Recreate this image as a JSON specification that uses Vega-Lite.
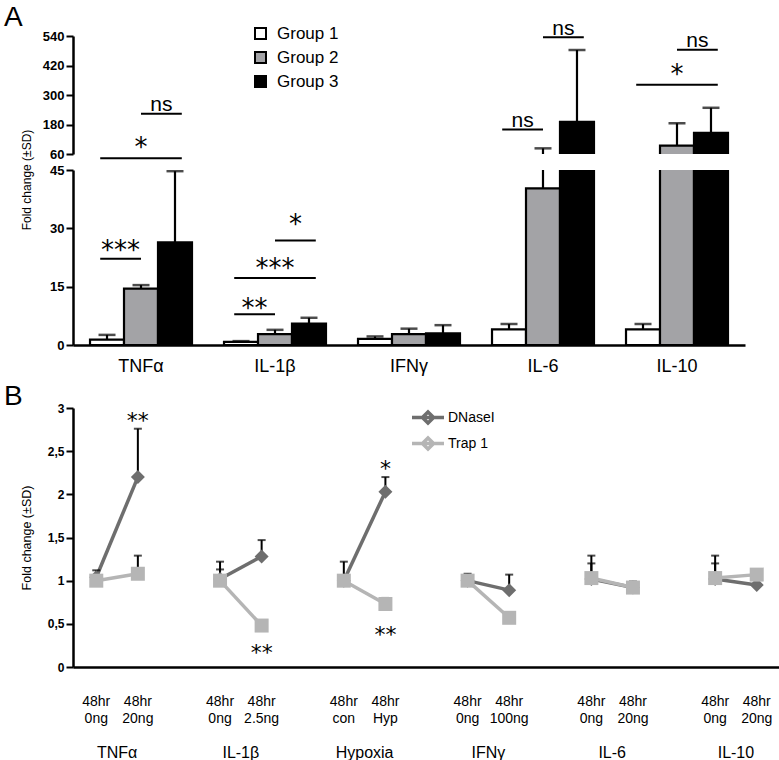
{
  "$schema": "https://vega.github.io/schema/vega-lite/v6.json",
  "padding": {"left": 4, "top": 3, "right": 0, "bottom": 0},
  "background": "white",
  "spacing": 8,
  "config": {
    "view": {"stroke": null},
    "font": "Liberation Sans",
    "axis": {"grid": false, "domainColor": "#000000", "domainWidth": 2.5, "tickColor": "#000000", "tickWidth": 2, "labelColor": "#000000", "titleColor": "#000000", "labelFont": "Liberation Sans", "titleFont": "Liberation Sans"},
    "legend": {"labelFont": "Liberation Sans", "labelColor": "#000000", "padding": 0}
  },
  "datasets": {
    "abars": [
      {"cyt": "TNFα", "grp": "Group 1", "v": 1.4, "e": 2.6},
      {"cyt": "TNFα", "grp": "Group 2", "v": 14.5, "e": 15.4},
      {"cyt": "TNFα", "grp": "Group 3", "v": 26.4, "e": 44.7},
      {"cyt": "IL-1β", "grp": "Group 1", "v": 0.8, "e": 1.0},
      {"cyt": "IL-1β", "grp": "Group 2", "v": 2.8, "e": 3.9},
      {"cyt": "IL-1β", "grp": "Group 3", "v": 5.5, "e": 7.0},
      {"cyt": "IFNγ", "grp": "Group 1", "v": 1.6, "e": 2.2},
      {"cyt": "IFNγ", "grp": "Group 2", "v": 2.8, "e": 4.2},
      {"cyt": "IFNγ", "grp": "Group 3", "v": 3.0, "e": 5.1},
      {"cyt": "IL-6", "grp": "Group 1", "v": 4.0, "e": 5.4},
      {"cyt": "IL-6", "grp": "Group 2", "v": 40.3, "e": 83},
      {"cyt": "IL-6", "grp": "Group 3", "v": 191, "e": 483},
      {"cyt": "IL-10", "grp": "Group 1", "v": 4.0, "e": 5.4},
      {"cyt": "IL-10", "grp": "Group 2", "v": 94, "e": 185},
      {"cyt": "IL-10", "grp": "Group 3", "v": 146, "e": 248}
    ],
    "alines": [
      {"id": "L1", "cyt": "TNFα", "pos": "Group 1", "v": 22.2, "panel": "lower"},
      {"id": "L1", "cyt": "TNFα", "pos": "Group 2", "v": 22.2, "panel": "lower"},
      {"id": "L2", "cyt": "TNFα", "pos": "Group 1", "v": 48.0, "panel": "lower"},
      {"id": "L2", "cyt": "TNFα", "pos": "Group 3", "v": 48.0, "panel": "lower"},
      {"id": "L3", "cyt": "TNFα", "pos": "Group 2", "v": 223.5, "panel": "upper"},
      {"id": "L3", "cyt": "TNFα", "pos": "Group 3", "v": 223.5, "panel": "upper"},
      {"id": "L4", "cyt": "IL-1β", "pos": "Group 1", "v": 7.9, "panel": "lower"},
      {"id": "L4", "cyt": "IL-1β", "pos": "Group 2", "v": 7.9, "panel": "lower"},
      {"id": "L5", "cyt": "IL-1β", "pos": "Group 1", "v": 17.2, "panel": "lower"},
      {"id": "L5", "cyt": "IL-1β", "pos": "Group 3", "v": 17.2, "panel": "lower"},
      {"id": "L6", "cyt": "IL-1β", "pos": "Group 2", "v": 26.9, "panel": "lower"},
      {"id": "L6", "cyt": "IL-1β", "pos": "Group 3", "v": 26.9, "panel": "lower"},
      {"id": "L7", "cyt": "IL-6", "pos": "Group 1", "v": 159.7, "panel": "upper"},
      {"id": "L7", "cyt": "IL-6", "pos": "Group 2", "v": 159.7, "panel": "upper"},
      {"id": "L8", "cyt": "IL-6", "pos": "Group 2", "v": 535, "panel": "upper"},
      {"id": "L8", "cyt": "IL-6", "pos": "Group 3", "v": 535, "panel": "upper"},
      {"id": "L9", "cyt": "IL-10", "pos": "Group 1", "v": 341.5, "panel": "upper"},
      {"id": "L9", "cyt": "IL-10", "pos": "Group 3", "v": 341.5, "panel": "upper"},
      {"id": "L10", "cyt": "IL-10", "pos": "Group 2", "v": 484, "panel": "upper"},
      {"id": "L10", "cyt": "IL-10", "pos": "Group 3", "v": 484, "panel": "upper"}
    ],
    "atexts": [
      {"cyt": "TNFα", "pos": "Group 1-2", "v": 22.0, "label": "***", "panel": "lower"},
      {"cyt": "TNFα", "pos": "Group 2", "v": 48.5, "label": "*", "panel": "lower"},
      {"cyt": "IL-1β", "pos": "Group 1-2", "v": 7.3, "label": "**", "panel": "lower"},
      {"cyt": "IL-1β", "pos": "Group 2", "v": 17.6, "label": "***", "panel": "lower"},
      {"cyt": "IL-1β", "pos": "Group 2-3", "v": 28.7, "label": "*", "panel": "lower"},
      {"cyt": "TNFα", "pos": "Group 2-3", "v": 234, "label": "ns", "panel": "upper"},
      {"cyt": "IL-6", "pos": "Group 1-2", "v": 169, "label": "ns", "panel": "upper"},
      {"cyt": "IL-6", "pos": "Group 2-3", "v": 546, "label": "ns", "panel": "upper"},
      {"cyt": "IL-10", "pos": "Group 2", "v": 349.6, "label": "*", "panel": "upper"},
      {"cyt": "IL-10", "pos": "Group 2-3", "v": 497, "label": "ns", "panel": "upper"}
    ],
    "bpts": [
      {"cond": "TNFα", "slot": "a", "series": "DNaseI", "v": 1.04, "e": 1.12},
      {"cond": "TNFα", "slot": "a", "series": "Trap 1", "v": 1.0, "e": null},
      {"cond": "TNFα", "slot": "b", "series": "DNaseI", "v": 2.2, "e": 2.76},
      {"cond": "TNFα", "slot": "b", "series": "Trap 1", "v": 1.08, "e": 1.29},
      {"cond": "IL-1β", "slot": "a", "series": "DNaseI", "v": 1.02, "e": 1.22},
      {"cond": "IL-1β", "slot": "a", "series": "Trap 1", "v": 1.0, "e": 1.13},
      {"cond": "IL-1β", "slot": "b", "series": "DNaseI", "v": 1.28, "e": 1.47},
      {"cond": "IL-1β", "slot": "b", "series": "Trap 1", "v": 0.48, "e": null},
      {"cond": "Hypoxia", "slot": "a", "series": "DNaseI", "v": 1.0, "e": 1.22},
      {"cond": "Hypoxia", "slot": "a", "series": "Trap 1", "v": 1.0, "e": null},
      {"cond": "Hypoxia", "slot": "b", "series": "DNaseI", "v": 2.03, "e": 2.2},
      {"cond": "Hypoxia", "slot": "b", "series": "Trap 1", "v": 0.73, "e": 0.8},
      {"cond": "IFNγ", "slot": "a", "series": "DNaseI", "v": 1.0, "e": 1.08},
      {"cond": "IFNγ", "slot": "a", "series": "Trap 1", "v": 1.0, "e": null},
      {"cond": "IFNγ", "slot": "b", "series": "DNaseI", "v": 0.89, "e": 1.07},
      {"cond": "IFNγ", "slot": "b", "series": "Trap 1", "v": 0.57, "e": null},
      {"cond": "IL-6", "slot": "a", "series": "DNaseI", "v": 1.02, "e": 1.29},
      {"cond": "IL-6", "slot": "a", "series": "Trap 1", "v": 1.03, "e": 1.2},
      {"cond": "IL-6", "slot": "b", "series": "DNaseI", "v": 0.92, "e": 0.99},
      {"cond": "IL-6", "slot": "b", "series": "Trap 1", "v": 0.92, "e": null},
      {"cond": "IL-10", "slot": "a", "series": "DNaseI", "v": 1.02, "e": 1.29},
      {"cond": "IL-10", "slot": "a", "series": "Trap 1", "v": 1.03, "e": 1.2},
      {"cond": "IL-10", "slot": "b", "series": "DNaseI", "v": 0.95, "e": null},
      {"cond": "IL-10", "slot": "b", "series": "Trap 1", "v": 1.07, "e": null}
    ],
    "bstars": [
      {"cond": "TNFα", "slot": "b", "v": 2.77, "label": "**"},
      {"cond": "Hypoxia", "slot": "b", "v": 2.21, "label": "*"},
      {"cond": "IL-1β", "slot": "b", "v": 0.08, "label": "**"},
      {"cond": "Hypoxia", "slot": "b", "v": 0.29, "label": "**"}
    ],
    "bsub": [
      {"cond": "TNFα", "slot": "a", "label": "48hr\n0ng"},
      {"cond": "TNFα", "slot": "b", "label": "48hr\n20ng"},
      {"cond": "IL-1β", "slot": "a", "label": "48hr\n0ng"},
      {"cond": "IL-1β", "slot": "b", "label": "48hr\n2.5ng"},
      {"cond": "Hypoxia", "slot": "a", "label": "48hr\ncon"},
      {"cond": "Hypoxia", "slot": "b", "label": "48hr\nHyp"},
      {"cond": "IFNγ", "slot": "a", "label": "48hr\n0ng"},
      {"cond": "IFNγ", "slot": "b", "label": "48hr\n100ng"},
      {"cond": "IL-6", "slot": "a", "label": "48hr\n0ng"},
      {"cond": "IL-6", "slot": "b", "label": "48hr\n20ng"},
      {"cond": "IL-10", "slot": "a", "label": "48hr\n0ng"},
      {"cond": "IL-10", "slot": "b", "label": "48hr\n20ng"}
    ]
  },
  "resolve": {
    "scale": {"color": "independent"},
    "legend": {"color": "independent"}
  },
  "vconcat": [
    {
      "bounds": "flush",
      "spacing": 16,
      "resolve": {"scale": {"color": "independent"}, "legend": {"color": "independent"}},
      "vconcat": [
        {
          "width": 672,
          "height": 118,
          "title": {"text": "A", "anchor": "start", "frame": "group", "fontSize": 28, "fontWeight": "normal", "font": "Liberation Sans", "color": "#000000", "dx": -69, "offset": -36, "baseline": "alphabetic"},
          "resolve": {"scale": {"xOffset": "independent"}},
          "encoding": {
            "x": {"field": "cyt", "type": "nominal", "scale": {"domain": ["TNFα", "IL-1β", "IFNγ", "IL-6", "IL-10"], "paddingInner": 0.239, "paddingOuter": 0.127}, "axis": null},
            "y": {"field": "v", "type": "quantitative", "scale": {"domain": [60, 540], "nice": false, "zero": false}, "axis": {"values": [60, 180, 300, 420, 540], "title": null, "labelFontSize": 13, "labelFontWeight": "bold", "tickSize": 7, "labelPadding": 2}}
          },
          "layer": [
            {
              "data": {"name": "abars"},
              "mark": {"type": "bar", "clip": true, "stroke": "#000000", "strokeWidth": 2.2},
              "encoding": {
                "xOffset": {"field": "grp", "type": "nominal", "scale": {"domain": ["Group 1", "Group 2", "Group 3"], "paddingInner": 0, "paddingOuter": 0}},
                "y2": {"datum": 0},
                "color": {"field": "grp", "type": "nominal", "scale": {"domain": ["Group 1", "Group 2", "Group 3"], "range": ["#ffffff", "#a3a3a6", "#000000"]}, "legend": {"orient": "none", "legendX": 179, "legendY": -11, "title": null, "labelFontSize": 17, "symbolType": "square", "symbolSize": 121, "symbolStrokeColor": "#000000", "symbolStrokeWidth": 2, "rowPadding": 5, "labelOffset": 8}}
              }
            },
            {
              "data": {"name": "abars"},
              "mark": {"type": "rule", "clip": true, "color": "#000000", "strokeWidth": 2.2},
              "encoding": {
                "xOffset": {"field": "grp", "type": "nominal", "scale": {"domain": ["Group 1", "Group 2", "Group 3"], "paddingInner": 0, "paddingOuter": 0}},
                "y2": {"field": "e"}
              }
            },
            {
              "data": {"name": "abars"},
              "mark": {"type": "tick", "clip": true, "color": "#000000", "thickness": 2.5, "size": 17, "orient": "horizontal"},
              "encoding": {
                "xOffset": {"field": "grp", "type": "nominal", "scale": {"domain": ["Group 1", "Group 2", "Group 3"], "paddingInner": 0, "paddingOuter": 0}},
                "y": {"field": "e", "type": "quantitative", "scale": {"domain": [60, 540], "nice": false, "zero": false}}
              }
            },
            {
              "data": {"name": "alines"},
              "transform": [{"filter": "datum.panel == 'upper'"}],
              "mark": {"type": "line", "color": "#000000", "strokeWidth": 2},
              "encoding": {
                "xOffset": {"field": "pos", "type": "nominal", "scale": {"domain": ["Group 1", "Group 1-2", "Group 2", "Group 2-3", "Group 3"], "paddingInner": 0, "paddingOuter": 0.5}},
                "detail": {"field": "id"}
              }
            },
            {
              "data": {"name": "atexts"},
              "transform": [{"filter": "datum.panel == 'upper' && datum.label == 'ns'"}],
              "mark": {"type": "text", "font": "Liberation Sans", "fontSize": 21, "baseline": "alphabetic", "color": "#000000"},
              "encoding": {
                "xOffset": {"field": "pos", "type": "nominal", "scale": {"domain": ["Group 1", "Group 1-2", "Group 2", "Group 2-3", "Group 3"], "paddingInner": 0, "paddingOuter": 0.5}},
                "text": {"field": "label"}
              }
            },
            {
              "data": {"name": "atexts"},
              "transform": [{"filter": "datum.panel == 'upper' && datum.label != 'ns'"}],
              "mark": {"type": "text", "font": "DejaVu Sans", "fontSize": 26, "baseline": "alphabetic", "color": "#000000"},
              "encoding": {
                "xOffset": {"field": "pos", "type": "nominal", "scale": {"domain": ["Group 1", "Group 1-2", "Group 2", "Group 2-3", "Group 3"], "paddingInner": 0, "paddingOuter": 0.5}},
                "text": {"field": "label"}
              }
            }
          ]
        },
        {
          "width": 672,
          "height": 175,
          "resolve": {"scale": {"xOffset": "independent"}},
          "encoding": {
            "x": {"field": "cyt", "type": "nominal", "scale": {"domain": ["TNFα", "IL-1β", "IFNγ", "IL-6", "IL-10"], "paddingInner": 0.239, "paddingOuter": 0.127}, "axis": {"title": null, "labelAngle": 0, "ticks": false, "labelFontSize": 18, "labelPadding": 12}},
            "y": {"field": "v", "type": "quantitative", "scale": {"domain": [0, 45], "nice": false}, "axis": {"values": [0, 15, 30, 45], "title": "Fold change (±SD)", "titleFontSize": 12, "titleFontWeight": "normal", "titleX": -40, "titleY": 9.5, "labelFontSize": 13, "labelFontWeight": "bold", "tickSize": 7, "labelPadding": 2}}
          },
          "layer": [
            {
              "data": {"name": "abars"},
              "mark": {"type": "bar", "clip": true, "stroke": "#000000", "strokeWidth": 2.2},
              "encoding": {
                "xOffset": {"field": "grp", "type": "nominal", "scale": {"domain": ["Group 1", "Group 2", "Group 3"], "paddingInner": 0, "paddingOuter": 0}},
                "y2": {"datum": 0},
                "color": {"field": "grp", "type": "nominal", "scale": {"domain": ["Group 1", "Group 2", "Group 3"], "range": ["#ffffff", "#a3a3a6", "#000000"]}, "legend": null}
              }
            },
            {
              "data": {"name": "abars"},
              "mark": {"type": "rule", "clip": true, "color": "#000000", "strokeWidth": 2.2},
              "encoding": {
                "xOffset": {"field": "grp", "type": "nominal", "scale": {"domain": ["Group 1", "Group 2", "Group 3"], "paddingInner": 0, "paddingOuter": 0}},
                "y2": {"field": "e"}
              }
            },
            {
              "data": {"name": "abars"},
              "mark": {"type": "tick", "clip": true, "color": "#000000", "thickness": 2.5, "size": 17, "orient": "horizontal"},
              "encoding": {
                "xOffset": {"field": "grp", "type": "nominal", "scale": {"domain": ["Group 1", "Group 2", "Group 3"], "paddingInner": 0, "paddingOuter": 0}},
                "y": {"field": "e", "type": "quantitative", "scale": {"domain": [0, 45], "nice": false}}
              }
            },
            {
              "data": {"name": "alines"},
              "transform": [{"filter": "datum.panel == 'lower'"}],
              "mark": {"type": "line", "color": "#000000", "strokeWidth": 2},
              "encoding": {
                "xOffset": {"field": "pos", "type": "nominal", "scale": {"domain": ["Group 1", "Group 1-2", "Group 2", "Group 2-3", "Group 3"], "paddingInner": 0, "paddingOuter": 0.5}},
                "detail": {"field": "id"}
              }
            },
            {
              "data": {"name": "atexts"},
              "transform": [{"filter": "datum.panel == 'lower' && datum.label != 'ns'"}],
              "mark": {"type": "text", "font": "DejaVu Sans", "fontSize": 26, "baseline": "alphabetic", "color": "#000000"},
              "encoding": {
                "xOffset": {"field": "pos", "type": "nominal", "scale": {"domain": ["Group 1", "Group 1-2", "Group 2", "Group 2-3", "Group 3"], "paddingInner": 0, "paddingOuter": 0.5}},
                "text": {"field": "label"}
              }
            }
          ]
        }
      ]
    },
    {
      "width": 707,
      "height": 259,
      "title": {"text": "B", "anchor": "start", "frame": "group", "fontSize": 28, "fontWeight": "normal", "font": "Liberation Sans", "color": "#000000", "dx": -69, "offset": -31, "baseline": "alphabetic"},
      "encoding": {
        "y": {"field": "v", "type": "quantitative", "scale": {"domain": [0, 3], "nice": false}, "axis": {"values": [0, 0.5, 1, 1.5, 2, 2.5, 3], "labelExpr": "replace(format(datum.value, '~g'), '.', ',')", "title": "Fold change (±SD)", "titleFontSize": 12.5, "titleFontWeight": "normal", "titleX": -40, "labelFontSize": 12, "labelFontWeight": "bold", "tickSize": 7, "labelPadding": 2}}
      },
      "layer": [
        {
          "data": {"values": [{}]},
          "mark": {"type": "rule", "color": "#000000", "strokeWidth": 2.5},
          "encoding": {"y": {"datum": 0, "type": "quantitative"}}
        },
        {
          "data": {"name": "bpts"},
          "mark": {"type": "line", "strokeWidth": 3.5},
          "encoding": {
            "x": {"field": "cond", "type": "nominal", "scale": {"domain": ["TNFα", "IL-1β", "Hypoxia", "IFNγ", "IL-6", "IL-10"], "paddingInner": 0.328, "paddingOuter": 0.02}, "axis": {"title": null, "labels": false, "ticks": false}},
            "xOffset": {"field": "slot", "type": "nominal", "scale": {"domain": ["a", "b"], "paddingInner": 0, "paddingOuter": 0}},
            "color": {"field": "series", "type": "nominal", "scale": {"domain": ["DNaseI", "Trap 1"], "range": ["#6e6e6e", "#b5b5b5"]}, "legend": {"orient": "none", "legendX": 345, "legendY": -0.5, "title": null, "labelFontSize": 14, "labelOffset": 10, "rowPadding": 0, "symbolType": "M-2,0H2M0,-0.7L0.7,0L0,0.7L-0.7,0Z", "symbolSize": 256, "symbolStrokeWidth": 3.5}},
            "detail": {"field": "cond"}
          }
        },
        {
          "data": {"name": "bpts"},
          "transform": [{"filter": "datum.e != null"}],
          "mark": {"type": "rule", "color": "#000000", "strokeWidth": 2},
          "encoding": {
            "x": {"field": "cond", "type": "nominal", "scale": {"domain": ["TNFα", "IL-1β", "Hypoxia", "IFNγ", "IL-6", "IL-10"], "paddingInner": 0.328, "paddingOuter": 0.02}},
            "xOffset": {"field": "slot", "type": "nominal", "scale": {"domain": ["a", "b"], "paddingInner": 0, "paddingOuter": 0}},
            "y2": {"field": "e"}
          }
        },
        {
          "data": {"name": "bpts"},
          "transform": [{"filter": "datum.e != null"}],
          "mark": {"type": "tick", "color": "#000000", "thickness": 2, "size": 8, "orient": "horizontal"},
          "encoding": {
            "x": {"field": "cond", "type": "nominal", "scale": {"domain": ["TNFα", "IL-1β", "Hypoxia", "IFNγ", "IL-6", "IL-10"], "paddingInner": 0.328, "paddingOuter": 0.02}},
            "xOffset": {"field": "slot", "type": "nominal", "scale": {"domain": ["a", "b"], "paddingInner": 0, "paddingOuter": 0}},
            "y": {"field": "e", "type": "quantitative", "scale": {"domain": [0, 3], "nice": false}}
          }
        },
        {
          "data": {"name": "bpts"},
          "transform": [{"filter": "datum.series == 'DNaseI'"}],
          "mark": {"type": "point", "filled": true, "opacity": 1, "size": 196, "shape": "M0,-1L1,0L0,1L-1,0Z", "color": "#6e6e6e"},
          "encoding": {
            "x": {"field": "cond", "type": "nominal", "scale": {"domain": ["TNFα", "IL-1β", "Hypoxia", "IFNγ", "IL-6", "IL-10"], "paddingInner": 0.328, "paddingOuter": 0.02}},
            "xOffset": {"field": "slot", "type": "nominal", "scale": {"domain": ["a", "b"], "paddingInner": 0, "paddingOuter": 0}}
          }
        },
        {
          "data": {"name": "bpts"},
          "transform": [{"filter": "datum.series == 'Trap 1'"}],
          "mark": {"type": "point", "filled": true, "opacity": 1, "size": 196, "shape": "M-1,-1H1V1H-1Z", "color": "#b5b5b5"},
          "encoding": {
            "x": {"field": "cond", "type": "nominal", "scale": {"domain": ["TNFα", "IL-1β", "Hypoxia", "IFNγ", "IL-6", "IL-10"], "paddingInner": 0.328, "paddingOuter": 0.02}},
            "xOffset": {"field": "slot", "type": "nominal", "scale": {"domain": ["a", "b"], "paddingInner": 0, "paddingOuter": 0}}
          }
        },
        {
          "data": {"name": "bstars"},
          "mark": {"type": "text", "font": "DejaVu Sans", "fontSize": 22, "baseline": "alphabetic", "color": "#000000"},
          "encoding": {
            "x": {"field": "cond", "type": "nominal", "scale": {"domain": ["TNFα", "IL-1β", "Hypoxia", "IFNγ", "IL-6", "IL-10"], "paddingInner": 0.328, "paddingOuter": 0.02}},
            "xOffset": {"field": "slot", "type": "nominal", "scale": {"domain": ["a", "b"], "paddingInner": 0, "paddingOuter": 0}},
            "text": {"field": "label"}
          }
        }
      ]
    },
    {
      "width": 707,
      "height": 41,
      "data": {"name": "bsub"},
      "mark": {"type": "text", "font": "'Liberation Sans Narrow', 'Liberation Sans', sans-serif", "fontSize": 14, "baseline": "middle", "lineBreak": "\n", "lineHeight": 17, "color": "#000000"},
      "encoding": {
        "x": {"field": "cond", "type": "nominal", "scale": {"domain": ["TNFα", "IL-1β", "Hypoxia", "IFNγ", "IL-6", "IL-10"], "paddingInner": 0.328, "paddingOuter": 0.02}, "axis": {"title": null, "labelAngle": 0, "ticks": false, "domain": false, "labelFontSize": 16, "labelPadding": 22}},
        "xOffset": {"field": "slot", "type": "nominal", "scale": {"domain": ["a", "b"], "paddingInner": 0, "paddingOuter": 0}},
        "text": {"field": "label"}
      }
    }
  ]
}
